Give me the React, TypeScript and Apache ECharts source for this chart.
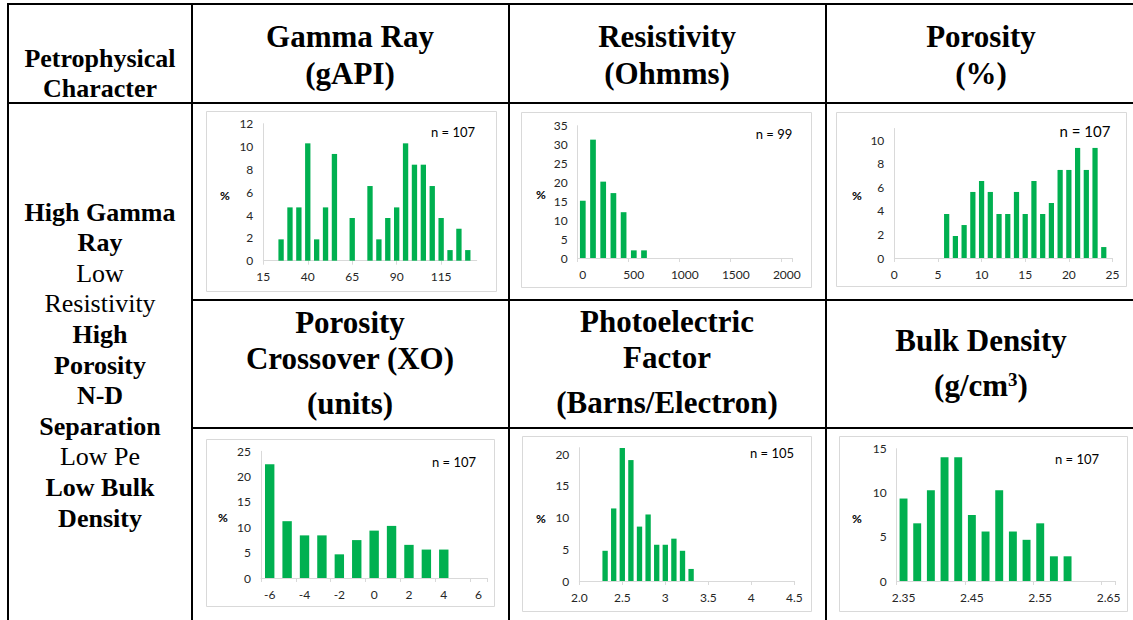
import { useEffect, useRef } from 'react';
import * as echarts from 'echarts';

// Histogram bins (category labels) and percentage of samples per bin
const grBins = ['15', '20', '25', '30', '35', '40', '45', '50', '55', '60', '65', '70', '75', '80', '85', '90', '95', '100', '105', '110', '115', '120', '125', '130', '135'];
const grPct = [0, 0, 1.87, 4.67, 4.67, 10.28, 1.87, 4.67, 9.35, 0, 3.74, 0, 6.54, 1.87, 3.74, 4.67, 10.28, 8.41, 8.41, 6.54, 3.74, 0.93, 2.8, 0.93, 0];

const resBins = ['0', '100', '200', '300', '400', '500', '600', '700', '800', '900', '1000', '1100', '1200', '1300', '1400', '1500', '1600', '1700', '1800', '1900', '2000'];
const resPct = [15.15, 31.31, 20.2, 17.17, 12.12, 2.02, 2.02, 0, 0, 0, 0, 0, 0, 0, 0, 0, 0, 0, 0, 0, 0];

const porBins = ['0', '1', '2', '3', '4', '5', '6', '7', '8', '9', '10', '11', '12', '13', '14', '15', '16', '17', '18', '19', '20', '21', '22', '23', '24', '25'];
const porPct = [0, 0, 0, 0, 0, 0, 3.74, 1.87, 2.8, 5.61, 6.54, 5.61, 3.74, 3.74, 5.61, 3.74, 6.54, 3.74, 4.67, 7.48, 7.48, 9.35, 7.48, 9.35, 0.93, 0];

const xoBins = ['-6', '-5', '-4', '-3', '-2', '-1', '0', '1', '2', '3', '4', '5', '6'];
const xoPct = [22.43, 11.21, 8.41, 8.41, 4.67, 7.48, 9.35, 10.28, 6.54, 5.61, 5.61, 0, 0];

const peBins = ['2.0', '2.1', '2.2', '2.3', '2.4', '2.5', '2.6', '2.7', '2.8', '2.9', '3', '3.1', '3.2', '3.3', '3.4', '3.5', '3.6', '3.7', '3.8', '3.9', '4', '4.1', '4.2', '4.3', '4.4', '4.5'];
const pePct = [0, 0, 0, 4.76, 11.43, 20.95, 19.05, 8.57, 10.48, 5.71, 5.71, 6.67, 4.76, 1.9, 0, 0, 0, 0, 0, 0, 0, 0, 0, 0, 0, 0];

const rhobBins = ['2.35', '2.37', '2.39', '2.41', '2.43', '2.45', '2.47', '2.49', '2.51', '2.53', '2.55', '2.57', '2.59', '2.61', '2.63', '2.65'];
const rhobPct = [9.35, 6.54, 10.28, 14.02, 14.02, 7.48, 5.61, 10.28, 5.61, 4.67, 6.54, 2.8, 2.8, 0, 0, 0];

const sampleCounts = [107, 99, 107, 107, 105, 107];

// Header and row texts of the table ({sup|...} marks a superscript)
const headerTop = [
  { cx: 350, lines: ['Gamma Ray', '(gAPI)'] },
  { cx: 667, lines: ['Resistivity', '(Ohmms)'] },
  { cx: 981, lines: ['Porosity', '(%)'] },
];
const headerMid: { cx: number; lines: [string, number][] }[] = [
  { cx: 350, lines: [['Porosity', 322], ['Crossover (XO)', 358], ['(units)', 403]] },
  { cx: 667, lines: [['Photoelectric', 321], ['Factor', 357], ['(Barns/Electron)', 402]] },
  { cx: 981, lines: [['Bulk Density', 340], ['(g/cm{sup|3})', 385]] },
];
const characterLines: [string, boolean][] = [
  ['High Gamma', true], ['Ray', true], ['Low', false], ['Resistivity', false],
  ['High', true], ['Porosity', true], ['N-D', true], ['Separation', true],
  ['Low Pe', false], ['Low Bulk', true], ['Density', true],
];

const GREEN = '#00b050';
const AXIS = '#d9d9d9';
const LABEL = '#262626';
const SANS = 'Lato';
const SERIF = 'Times New Roman';

const panels = [
  { cats: grBins, pct: grPct, grid: [263.3, 123.7, 213.4, 137], yMax: 12, yStep: 2, gap: false, every: 4, bar: '60%', box: [206, 111, 290, 180], pctAt: [225, 195], nAt: [453, 132], nSize: 13 },
  { cats: resBins, pct: resPct, grid: [577.7, 125.7, 214.2, 132.3], yMax: 35, yStep: 5, gap: true, every: 4, bar: '56%', box: [521, 112, 290, 175], pctAt: [541, 194], nAt: [774, 134], nSize: 13 },
  { cats: porBins, pct: porPct, grid: [894.3, 128.5, 218.2, 129.5], yMax: 11, yStep: 2, hideMax: true, gap: false, every: 4, bar: '60%', box: [836, 112, 290, 174], pctAt: [857, 195], nAt: [1085, 131], nSize: 15 },
  { cats: xoBins, pct: xoPct, grid: [261, 451.3, 226.3, 126.7], yMax: 25, yStep: 5, gap: true, every: 1, bar: '54%', box: [206, 439, 288, 167], pctAt: [223, 517], nAt: [454, 462], nSize: 13 },
  { cats: peBins, pct: pePct, grid: [579.3, 447.7, 215, 133.3], yMax: 21, yStep: 5, hideMax: true, gap: false, every: 4, bar: '62%', box: [522, 436, 289, 175], pctAt: [541, 518], nAt: [772, 453], nSize: 13 },
  { cats: rhobBins, pct: rhobPct, grid: [896.7, 448.7, 218.7, 132.3], yMax: 15, yStep: 5, gap: true, every: 4, bar: '58%', box: [839, 436, 288, 175], pctAt: [857, 518], nAt: [1077, 459], nSize: 13 },
];

// wrap plain runs in the {t|...} token so a {sup|...} run can sit between them
function toRich(s: string) {
  const m = s.match(/^(.*)\{sup\|(.*)\}(.*)$/);
  if (!m) return `{t|${s}}`;
  return `{t|${m[1]}}{sup|${m[2]}}` + (m[3] ? `{t|${m[3]}}` : '');
}

function buildOption() {
  const grid: any[] = [];
  const xAxis: any[] = [];
  const yAxis: any[] = [];
  const series: any[] = [];
  const graphic: any[] = [];

  panels.forEach((p, i) => {
    const [left, top, width, height] = p.grid;
    grid.push({ left, top, width, height, containLabel: false });
    xAxis.push({
      gridIndex: i,
      type: 'category',
      data: p.cats,
      boundaryGap: p.gap,
      axisLine: { show: true, lineStyle: { color: AXIS, width: 1 } },
      axisTick: { show: true, interval: p.every, length: 4, lineStyle: { color: AXIS } },
      axisLabel: { interval: p.every, margin: 10, color: LABEL, fontFamily: SANS, fontSize: 12 },
      splitLine: { show: false },
    });
    yAxis.push({
      gridIndex: i,
      type: 'value',
      min: 0,
      max: p.yMax,
      interval: p.yStep,
      axisLine: { show: true, lineStyle: { color: AXIS, width: 1 } },
      axisTick: { show: false },
      splitLine: { show: false },
      axisLabel: {
        margin: 10,
        color: LABEL,
        fontFamily: SANS,
        fontSize: 12,
        showMaxLabel: (p as any).hideMax ? false : null,
      },
    });
    series.push({
      type: 'bar',
      xAxisIndex: i,
      yAxisIndex: i,
      data: p.pct,
      barWidth: p.bar,
      itemStyle: { color: GREEN },
      silent: true,
    });

    const [bx, by, bw, bh] = p.box;
    graphic.push({
      type: 'rect',
      shape: { x: bx + 0.5, y: by + 0.5, width: bw, height: bh },
      style: { fill: 'none', stroke: AXIS, lineWidth: 1 },
      silent: true,
    });
    graphic.push({
      type: 'text',
      x: p.pctAt[0],
      y: p.pctAt[1],
      style: { text: '%', fill: '#000', fontFamily: SANS, fontSize: 12, fontWeight: 'bold', align: 'center', verticalAlign: 'middle' },
    });
    graphic.push({
      type: 'text',
      x: p.nAt[0],
      y: p.nAt[1],
      style: { text: `n = ${sampleCounts[i]}`, fill: '#000', fontFamily: SANS, fontSize: p.nSize, align: 'center', verticalAlign: 'middle' },
    });
  });

  // table rules
  const rule = (x1: number, y1: number, x2: number, y2: number) => ({
    type: 'line',
    shape: { x1, y1, x2, y2 },
    style: { stroke: '#000', lineWidth: 2 },
    silent: true,
  });
  graphic.push(rule(7, 4, 1133, 4));
  graphic.push(rule(7, 103, 1133, 103));
  graphic.push(rule(192, 300, 1133, 300));
  graphic.push(rule(192, 428, 1133, 428));
  graphic.push(rule(8, 3, 8, 620));
  graphic.push(rule(192, 3, 192, 620));
  graphic.push(rule(509, 3, 509, 620));
  graphic.push(rule(826, 3, 826, 620));

  // serif table texts
  const txt = (text: string, x: number, y: number, size: number, bold: boolean) => {
    const weight = bold ? 'bold' : 'normal';
    return {
      type: 'text',
      x,
      y,
      style: {
        text: toRich(text),
        fill: '#000',
        fontFamily: SERIF,
        fontSize: size,
        fontWeight: weight,
        align: 'center',
        verticalAlign: 'middle',
        rich: {
          t: { fontFamily: SERIF, fontSize: size, fontWeight: weight, fill: '#000' },
          sup: { fontFamily: SERIF, fontSize: Math.round(size * 0.62), fontWeight: weight, fill: '#000', verticalAlign: 'top', padding: [0, 0, 10, 0] },
        },
      },
    };
  };

  graphic.push(txt('Petrophysical', 100, 58, 26, true));
  graphic.push(txt('Character', 100, 88, 26, true));
  headerTop.forEach((h) => {
    graphic.push(txt(h.lines[0], h.cx, 36, 31, true));
    graphic.push(txt(h.lines[1], h.cx, 73, 31, true));
  });
  headerMid.forEach((h) => {
    h.lines.forEach(([t, y]) => graphic.push(txt(t, h.cx, y, 31, true)));
  });
  characterLines.forEach(([t, bold], k) => {
    graphic.push(txt(t, 100, 212 + k * 30.6, 26, bold));
  });

  return { animation: false, textStyle: { fontFamily: SERIF }, grid, xAxis, yAxis, series, graphic };
}

export default function App() {
  const ref = useRef<HTMLDivElement>(null);
  useEffect(() => {
    if (!ref.current) return;
    const chart = echarts.init(ref.current, undefined, { renderer: 'svg' });
    chart.setOption(buildOption() as any);
    return () => chart.dispose();
  }, []);
  return (
    <div
      ref={ref}
      style={{ position: 'absolute', left: 0, top: 0, width: 1133, height: 620, background: '#fff' }}
    />
  );
}
